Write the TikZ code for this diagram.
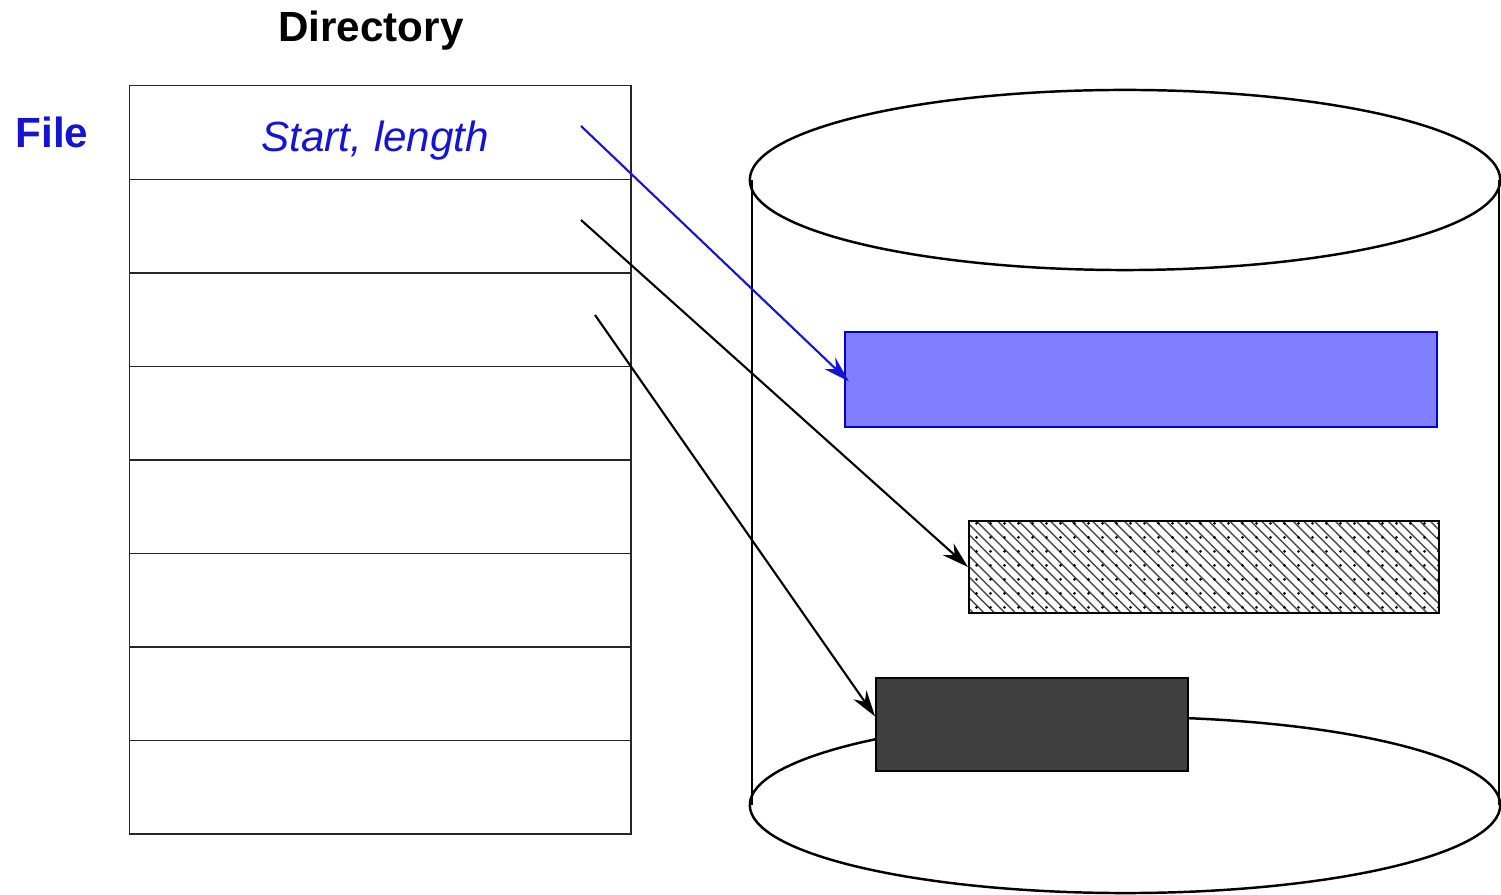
\documentclass[tikz,border=0pt]{standalone}
\usepackage{fontspec}
\setmainfont{Liberation Sans}
\usetikzlibrary{matrix,patterns,arrows.meta}

\definecolor{fileblue}{RGB}{20,20,210}
\definecolor{extentblue}{RGB}{128,128,255}
\definecolor{extentdark}{RGB}{64,64,64}

% coarse dots laid over the hatching
\pgfdeclarepatternformonly{sparse dots}{\pgfpointorigin}{\pgfpoint{4pt}{4pt}}{\pgfpoint{4pt}{4pt}}{%
  \pgfpathcircle{\pgfpoint{2pt}{2pt}}{0.45pt}\pgfusepath{fill}}

\tikzset{
  extent/.style={draw,line width=0.5pt,inner sep=0pt},
  pointer/.style={-{Stealth[length=7.5pt,width=4.5pt]},line width=0.6pt},
  rim/.style={line width=0.7pt}
}

\begin{document}
\begin{tikzpicture}[x=0.01cm,y=-0.01cm]
  \useasboundingbox (0,0) rectangle (1501,895);

  % directory table
  \matrix (m) [matrix of nodes,nodes in empty cells,anchor=north west,inner sep=0pt,outer sep=0pt,row sep=-0.4pt,
    nodes={draw=black!85,line width=0.4pt,minimum width=5.01cm,minimum height=0.935cm,
      inner sep=0pt,outer sep=0pt}] at (129,85) {
     \\ \\ \\ \\ \\ \\ \\ \\};
  \node[text=fileblue,font=\fontsize{12}{14}\selectfont\itshape] (entry) at ([xshift=-0.05cm,yshift=-0.08cm]m-1-1.center) {Start, length};
  \node (dir) at (371,31) {\fontsize{12}{14}\selectfont\bfseries Directory};
  \node[text=fileblue] (file) at (52,132) {\fontsize{12}{14}\selectfont\bfseries File};

  % disk
  \draw[rim] (1125,180) ellipse [x radius=3.75cm,y radius=0.9cm];
  \draw[rim] (1125,805) ellipse [x radius=3.75cm,y radius=0.88cm];
  \draw[line width=0.4pt] (752,180) -- (752,805) (1499,180) -- (1499,805);

  % extents on the disk
  \node[extent,draw=blue!80!black,fill=extentblue,minimum width=5.92cm,minimum height=0.95cm] (e1) at (1141,379.5) {};
  \node[extent,pattern=north west lines,pattern color=black!70,minimum width=4.70cm,minimum height=0.92cm] (e2) at (1204,567) {};
  \fill[pattern=sparse dots,pattern color=black] (e2.south west) rectangle (e2.north east);
  \node[extent,fill=extentdark,minimum width=3.12cm,minimum height=0.93cm] (e3) at (1032,724.5) {};

  % pointers from the directory
  \coordinate (p1) at (581,126);
  \coordinate (p2) at (581,220);
  \coordinate (p3) at (595,315);
  \path[pointer]
    (p1) edge [fileblue] ([xshift=0.05cm,yshift=-0.02cm]e1.west)
    (p2) edge (e2.west)
    (p3) edge ([yshift=0.08cm]e3.west);
\end{tikzpicture}
\end{document}
